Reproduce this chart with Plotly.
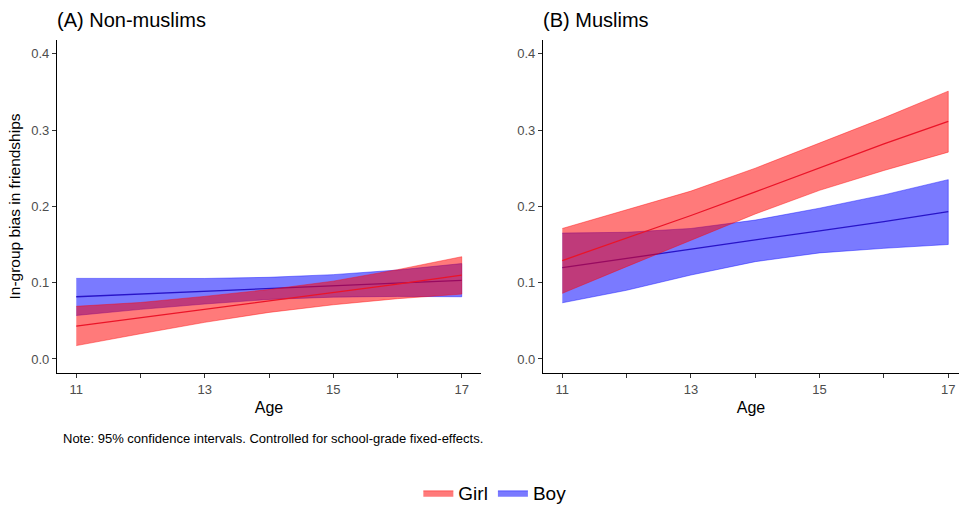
import plotly.graph_objects as go

ages = [11, 12, 13, 14, 15, 16, 17]

# Panel A: Non-muslims
a_girl_mean = [0.043, 0.054, 0.065, 0.076, 0.087, 0.098, 0.110]
a_girl_upper = [0.069, 0.074, 0.082, 0.091, 0.102, 0.117, 0.134]
a_girl_lower = [0.0175, 0.033, 0.048, 0.061, 0.071, 0.079, 0.085]
a_boy_mean = [0.0815, 0.085, 0.089, 0.092, 0.096, 0.0995, 0.103]
a_boy_upper = [0.1056, 0.1055, 0.1055, 0.107, 0.1105, 0.1165, 0.125]
a_boy_lower = [0.057, 0.065, 0.072, 0.078, 0.081, 0.082, 0.0815]

# Panel B: Muslims
b_girl_mean = [0.129, 0.158, 0.188, 0.219, 0.251, 0.282, 0.3115]
b_girl_upper = [0.171, 0.195, 0.220, 0.250, 0.283, 0.316, 0.351]
b_girl_lower = [0.086, 0.121, 0.156, 0.190, 0.221, 0.247, 0.271]
b_boy_mean = [0.1196, 0.132, 0.144, 0.156, 0.168, 0.180, 0.193]
b_boy_upper = [0.165, 0.166, 0.171, 0.182, 0.1976, 0.215, 0.235]
b_boy_lower = [0.0736, 0.090, 0.110, 0.1275, 0.139, 0.145, 0.150]

y_ticks = [0.0, 0.1, 0.2, 0.3, 0.4]
x_ticks = [11, 12, 13, 14, 15, 16, 17]
x_ticklabels = ["11", "", "13", "", "15", "", "17"]

RED_FILL = "rgba(255,0,0,0.52)"
BLUE_FILL = "rgba(0,0,255,0.52)"
RED_LINE = "rgb(235,20,40)"
BLUE_LINE = "rgb(40,20,200)"
FONT = "Liberation Sans, Arial, sans-serif"

fig = go.Figure()


def add_group(xa, ya, mean, upper, lower, fill, line, name, show):
    fig.add_trace(go.Scatter(
        x=ages + ages[::-1], y=upper + lower[::-1], fill="toself",
        fillcolor=fill, line=dict(color=fill, width=0.8), mode="lines",
        name=name, legendgroup=name, showlegend=show, hoverinfo="skip",
        xaxis=xa, yaxis=ya))
    fig.add_trace(go.Scatter(
        x=ages, y=mean, mode="lines", line=dict(color=line, width=1.3),
        name=name, legendgroup=name, showlegend=False,
        xaxis=xa, yaxis=ya))


add_group("x", "y", a_boy_mean, a_boy_upper, a_boy_lower, BLUE_FILL, BLUE_LINE, "Boy", False)
add_group("x", "y", a_girl_mean, a_girl_upper, a_girl_lower, RED_FILL, RED_LINE, "Girl", True)
add_group("x2", "y2", b_boy_mean, b_boy_upper, b_boy_lower, BLUE_FILL, BLUE_LINE, "Boy", True)
add_group("x2", "y2", b_girl_mean, b_girl_upper, b_girl_lower, RED_FILL, RED_LINE, "Girl", False)

W, H = 959, 512
ydom = [1 - 373 / H, 1 - 40 / H]
yrange = [-0.0184, 0.418]

axis_common = dict(showline=True, linecolor="black", linewidth=1.2, ticks="outside",
                   ticklen=4, tickcolor="#333333", showgrid=False, zeroline=False,
                   tickfont=dict(family=FONT, size=13, color="#4d4d4d"))

fig.update_layout(
    width=W, height=H,
    margin=dict(l=0, r=0, t=0, b=0),
    plot_bgcolor="white", paper_bgcolor="white",
    font=dict(family=FONT, color="black"),
    xaxis=dict(domain=[57 / W, 481 / W], range=[10.7, 17.3], anchor="y",
               tickvals=x_ticks, ticktext=x_ticklabels,
               title=dict(text="Age", font=dict(size=16, family=FONT), standoff=6),
               **axis_common),
    yaxis=dict(domain=ydom, range=yrange, anchor="x", tickvals=y_ticks,
               ticktext=[f"{v:.1f}" for v in y_ticks],
               title=dict(text="In-group bias in friendships", font=dict(size=15.5, family=FONT), standoff=6),
               **axis_common),
    xaxis2=dict(domain=[543 / W, 1.0], range=[10.7, 17.167], anchor="y2",
                tickvals=x_ticks, ticktext=x_ticklabels,
                title=dict(text="Age", font=dict(size=16, family=FONT), standoff=6),
                **axis_common),
    yaxis2=dict(domain=ydom, range=yrange, anchor="x2", tickvals=y_ticks,
                ticktext=[f"{v:.1f}" for v in y_ticks], **axis_common),
    legend=dict(orientation="h", x=0.516, xanchor="center", y=0, yanchor="bottom",
                font=dict(size=19, family=FONT), itemwidth=30, traceorder="normal",
                borderwidth=0),
    annotations=[
        dict(text="(A) Non-muslims", x=55 / W, y=1 - 20 / H, xref="paper", yref="paper",
             xanchor="left", yanchor="middle", showarrow=False,
             font=dict(size=20, family=FONT, color="black")),
        dict(text="(B) Muslims", x=541 / W, y=1 - 20 / H, xref="paper", yref="paper",
             xanchor="left", yanchor="middle", showarrow=False,
             font=dict(size=20, family=FONT, color="black")),
        dict(text="Note: 95% confidence intervals. Controlled for school-grade fixed-effects.",
             x=61 / W, y=1 - 438 / H, xref="paper", yref="paper",
             xanchor="left", yanchor="middle", showarrow=False,
             font=dict(size=13, family=FONT, color="black")),
    ],
)

post = (
    "document.documentElement.style.margin='0';"
    "document.documentElement.style.padding='0';"
    "document.documentElement.style.overflow='hidden';"
    "document.documentElement.style.height='512px';"
    "document.body.style.margin='0';"
    "document.body.style.padding='0';"
    "document.body.style.overflow='hidden';"
    "document.body.style.height='512px';"
)

fig.write_html("out.html", config={"displayModeBar": False}, post_script=post)
